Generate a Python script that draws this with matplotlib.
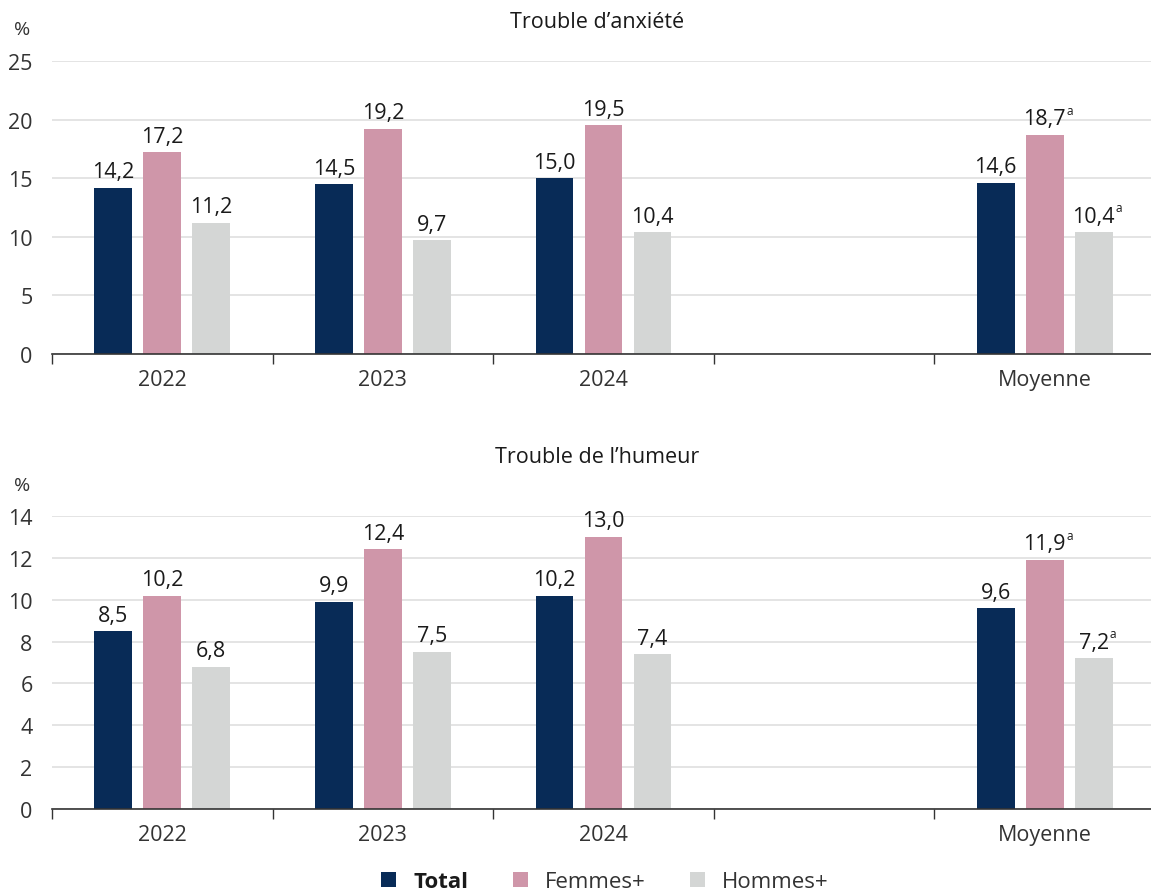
import matplotlib
matplotlib.use("Agg")
import matplotlib.pyplot as plt
from matplotlib.patches import Patch

plt.rcParams['font.family'] = ['Open Sans', 'DejaVu Sans']

categories = ["2022", "2023", "2024", "", "Moyenne"]
series_names = ["Total", "Femmes+", "Hommes+"]
colors = ["#082b57", "#cf96a9", "#d4d6d5"]

anx_total = [14.2, 14.5, 15.0, None, 14.6]
anx_femmes = [17.2, 19.2, 19.5, None, 18.7]
anx_hommes = [11.2, 9.7, 10.4, None, 10.4]

hum_total = [8.5, 9.9, 10.2, None, 9.6]
hum_femmes = [10.2, 12.4, 13.0, None, 11.9]
hum_hommes = [6.8, 7.5, 7.4, None, 7.2]

# superscript flags (index of category) per series
sup_anx = [[], [4], [4]]
sup_hum = [[], [4], [4]]

panels = [
    ("Trouble d\u2019anxi\u00e9t\u00e9", [anx_total, anx_femmes, anx_hommes], 25, [0, 5, 10, 15, 20, 25], sup_anx),
    ("Trouble de l\u2019humeur", [hum_total, hum_femmes, hum_hommes], 14, [0, 2, 4, 6, 8, 10, 12, 14], sup_hum),
]

W, H = 1151, 895
fig = plt.figure(figsize=(W / 100, H / 100), dpi=100)

ax_rects = [
    (52 / W, (H - 355) / H, (1151 - 52) / W, 293 / H),
    (52 / W, (H - 810) / H, (1151 - 52) / W, 293 / H),
]
title_y = [22, 458]
pct_y = [30, 486]

bw = 0.172
pitch = 0.222
n = len(categories)

for (title, series, ymax, yticks, sups), rect, ty, py in zip(panels, ax_rects, title_y, pct_y):
    ax = fig.add_axes(rect)
    for si, (vals, col) in enumerate(zip(series, colors)):
        off = (si - 1) * pitch
        for ci, v in enumerate(vals):
            if v is None:
                continue
            x = ci + off
            ax.bar(x, v, width=bw, color=col, zorder=3)
            t = ax.annotate(f"{v:.1f}".replace(".", ","), xy=(x, v), xytext=(0, 4),
                            textcoords="offset points", ha="center", va="bottom",
                            fontsize=15.5, color="#1a1a1a", zorder=4)
            if ci in sups[si]:
                ax.annotate("a", xy=(1, 0.6), xycoords=t, xytext=(0.2, 0),
                            textcoords="offset points", ha="left", va="bottom",
                            fontsize=8.5, color="#1a1a1a")
    ax.set_xlim(-0.5, -0.5 + (1151 - 52) / 220.6)
    ax.set_ylim(0, ymax)
    ax.set_yticks(yticks)
    ax.set_yticklabels([str(v) for v in yticks], fontsize=15.5, color="#333333")
    ax.tick_params(axis="y", length=0, pad=14)
    ax.set_xticks(range(n))
    ax.set_xticklabels(categories, fontsize=15.5, color="#333333")
    ax.tick_params(axis="x", which="major", length=0, pad=11)
    ax.set_xticks([i - 0.5 for i in range(n)], minor=True)
    ax.tick_params(axis="x", which="minor", length=7, width=1, color="#333333", direction="out")
    ax.grid(axis="y", color="#e2e2e2", linewidth=1.3, zorder=0)
    for s in ["top", "right", "left"]:
        ax.spines[s].set_visible(False)
    ax.spines["bottom"].set_color("#333333")
    ax.spines["bottom"].set_linewidth(1.2)
    ax.spines["bottom"].set_zorder(5)
    fig.text(597 / W, 1 - ty / H, title, ha="center", va="center", fontsize=15.5, color="#1a1a1a")
    fig.text(22 / W, 1 - py / H, "%", ha="center", va="center", fontsize=14, color="#333333")

handles = [Patch(facecolor=c, edgecolor="none") for c in colors]
leg = fig.legend(handles, series_names, loc="center", bbox_to_anchor=(605 / W, 1 - 883 / H),
                 ncol=3, frameon=False, fontsize=16, handlelength=0.68, handleheight=0.68,
                 columnspacing=2.0, handletextpad=0.77)
for txt in leg.get_texts():
    txt.set_color("#333333")
leg.get_texts()[0].set_fontweight("bold")
leg.get_texts()[0].set_color("#1a1a1a")

fig.savefig("out.png", dpi=100)
